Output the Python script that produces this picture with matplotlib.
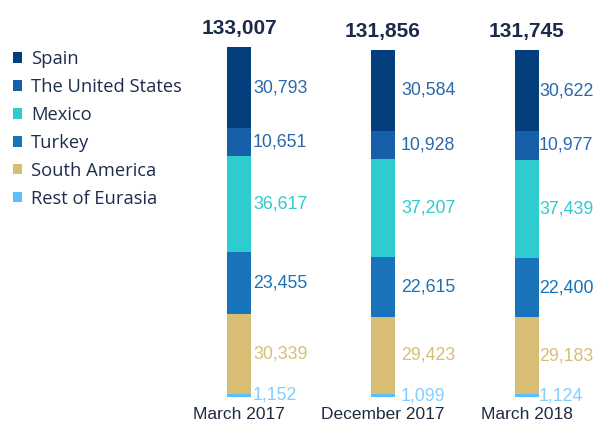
import matplotlib.pyplot as plt
from matplotlib.patches import Patch

# Data
periods = ['March 2017', 'December 2017', 'March 2018']
regions = ['Spain', 'The United States', 'Mexico', 'Turkey', 'South America', 'Rest of Eurasia']
spain = [30793, 30584, 30622]
united_states = [10651, 10928, 10977]
mexico = [36617, 37207, 37439]
turkey = [23455, 22615, 22400]
south_america = [30339, 29423, 29183]
rest_eurasia = [1152, 1099, 1124]
totals = [133007, 131856, 131745]

bar_colors = ['#043E7D', '#1560A8', '#2DCCCD', '#1973B8', '#D8BE75', '#5BBEFF']
label_colors = ['#2A68AA', '#2A68AA', '#2DCCCD', '#1973B8', '#D8BE75', '#7FD0FF']

plt.rcParams['font.family'] = ['Liberation Sans', 'DejaVu Sans']

fig = plt.figure(figsize=(5.97, 4.21), dpi=100)
ax = fig.add_axes([0, 24 / 421, 1, 397 / 421])

x = [0, 1, 2]
px = 1 / 144  # one pixel in x data units
width = 24 * px
# stack from bottom: rest, south america, turkey, mexico, us, spain
stack = [rest_eurasia, south_america, turkey, mexico, united_states, spain]
stack_colors = bar_colors[::-1]
stack_labels = label_colors[::-1]
bottoms = [0, 0, 0]
label_dx = [2 * px, 6 * px, 0]
for vals, col, lcol in zip(stack, stack_colors, stack_labels):
    ax.bar(x, vals, width, bottom=bottoms, color=col, edgecolor='none')
    for i in range(3):
        mid = bottoms[i] + vals[i] / 2
        ax.text(x[i] + width / 2 + label_dx[i], mid, f'{vals[i]:,}', color=lcol,
                fontsize=12.8, va='center', ha='left')
    bottoms = [b + v for b, v in zip(bottoms, vals)]

ypx = 133007 / 350  # one pixel in y data units
for i in range(3):
    ax.text(x[i], totals[i] + 9 * ypx, f'{totals[i]:,}', ha='center', va='bottom',
            fontsize=15, fontweight='bold', color='#1B2A4A')
    ax.text(x[i], -10 * ypx, periods[i], ha='center', va='top', fontsize=12.5,
            color='#1F2B3E')

ax.set_xlim(-239 * px, 358 * px)
ax.set_ylim(0, 397 * ypx)
ax.axis('off')

handles = [Patch(facecolor=c, edgecolor='none') for c in bar_colors]
leg = fig.legend(handles, regions, loc='upper left', bbox_to_anchor=(-0.006, 0.92),
                 frameon=False, handlelength=0.5, handleheight=0.5, handletextpad=0.5,
                 labelspacing=0.54, prop={'family': 'Open Sans', 'size': 13.2})
for t in leg.get_texts():
    t.set_color('#1F2D4D')

fig.savefig('out.png', dpi=100)
